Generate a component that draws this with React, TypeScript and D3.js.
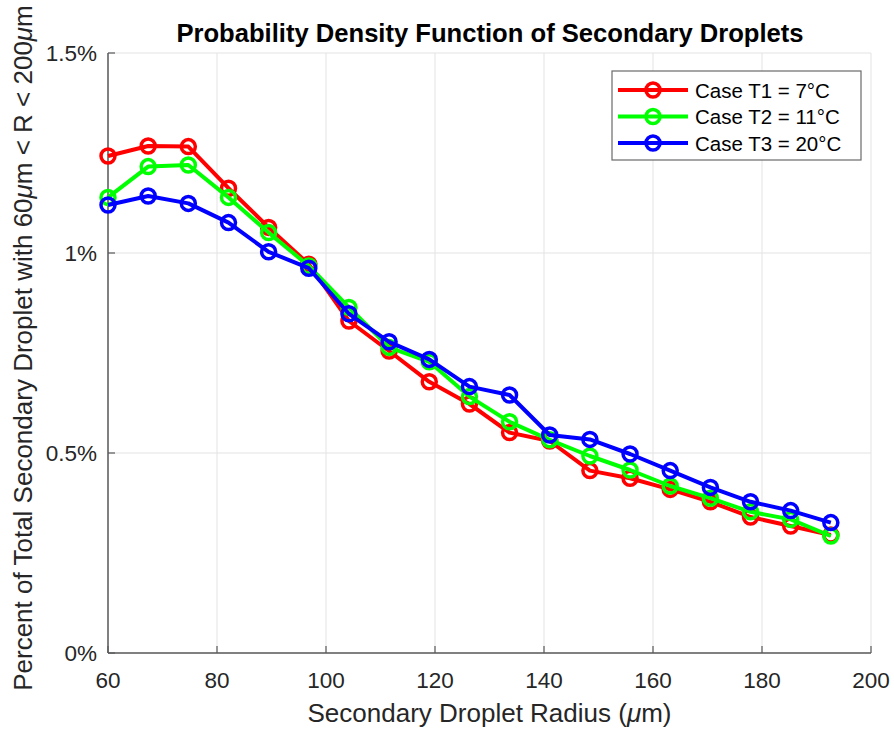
import React from "react";
import * as d3 from "d3";

const radius = [60, 67.37, 74.74, 82.11, 89.47, 96.84, 104.21, 111.58, 118.95, 126.32, 133.68, 141.05, 148.42, 155.79, 163.16, 170.53, 177.89, 185.26, 192.63];
const caseT1 = [1.2425, 1.2675, 1.266, 1.162, 1.064, 0.972, 0.83, 0.755, 0.678, 0.6225, 0.551, 0.53, 0.456, 0.437, 0.409, 0.378, 0.34, 0.3175, 0.295];
const caseT2 = [1.139, 1.216, 1.22, 1.139, 1.051, 0.9675, 0.864, 0.764, 0.728, 0.641, 0.578, 0.533, 0.4925, 0.4575, 0.4175, 0.387, 0.353, 0.334, 0.2925];
const caseT3 = [1.12, 1.1425, 1.124, 1.076, 1.003, 0.962, 0.848, 0.778, 0.734, 0.666, 0.645, 0.545, 0.534, 0.4975, 0.456, 0.414, 0.378, 0.356, 0.326];
const seriesNames = ["Case T1 = 7°C", "Case T2 = 11°C", "Case T3 = 20°C"];
const seriesColors = ["#ff0000", "#00ff00", "#0000ff"];
const xTicks = [60, 80, 100, 120, 140, 160, 180, 200];
const yTicks = [0, 0.5, 1, 1.5];
const yTickLabels = ["0%", "0.5%", "1%", "1.5%"];

const W = 894, H = 732;
const FONT = "'Liberation Sans', Arial, Helvetica, sans-serif";

export default function App() {
  const x = d3.scaleLinear().domain([60, 200]).range([108, 871]);
  const y = d3.scaleLinear().domain([0, 1.5]).range([653, 53]);
  const series = [caseT1, caseT2, caseT3];
  const line = d3.line<[number, number]>().x(d => x(d[0])).y(d => y(d[1]));
  const axisColor = "#5a5a5a";
  const gridColor = "#e3e3e3";

  return (
    <svg width={W} height={H} style={{ position: "absolute", left: 0, top: 0, background: "#fff" }} fontFamily={FONT}>
      <rect x={0} y={0} width={W} height={H} fill="#fff" />
      {xTicks.map(t => (
        <line key={"gx" + t} x1={x(t)} x2={x(t)} y1={y(1.5)} y2={y(0)} stroke={gridColor} strokeWidth={1} />
      ))}
      {yTicks.map(t => (
        <line key={"gy" + t} x1={x(60)} x2={x(200)} y1={y(t)} y2={y(t)} stroke={gridColor} strokeWidth={1} />
      ))}
      <line x1={x(60)} x2={x(200)} y1={y(0)} y2={y(0)} stroke={axisColor} strokeWidth={1.5} />
      <line x1={x(60)} x2={x(60)} y1={y(0)} y2={y(1.5)} stroke={axisColor} strokeWidth={1.5} />
      {xTicks.map(t => (
        <g key={"xt" + t}>
          <line x1={x(t)} x2={x(t)} y1={y(0)} y2={y(0) - 7} stroke={axisColor} strokeWidth={1.2} />
          <text x={x(t)} y={688} textAnchor="middle" fontSize={22.5} fill="#262626">{t}</text>
        </g>
      ))}
      {yTicks.map((t, i) => (
        <g key={"yt" + t}>
          <line x1={x(60)} x2={x(60) + 7} y1={y(t)} y2={y(t)} stroke={axisColor} strokeWidth={1.2} />
          <text x={97} y={y(t)} dy="0.37em" textAnchor="end" fontSize={22.5} fill="#262626">{yTickLabels[i]}</text>
        </g>
      ))}
      {series.map((s, si) => {
        const pts: [number, number][] = radius.map((r, i) => [r, s[i]]);
        return (
          <g key={"s" + si}>
            <path d={line(pts) || ""} fill="none" stroke={seriesColors[si]} strokeWidth={4} strokeLinejoin="round" />
            {pts.map((p, i) => (
              <circle key={i} cx={x(p[0])} cy={y(p[1])} r={7} fill="none" stroke={seriesColors[si]} strokeWidth={3.5} />
            ))}
          </g>
        );
      })}
      <text x={490} y={42} textAnchor="middle" fontSize={25.6} fontWeight="bold" fill="#000">Probability Density Function of Secondary Droplets</text>
      <text x={489.5} y={722} textAnchor="middle" fontSize={26} fill="#262626">
        Secondary Droplet Radius (<tspan fontStyle="italic">μ</tspan>m)
      </text>
      <text transform="translate(32,348) rotate(-90)" textAnchor="middle" fontSize={26} fill="#262626">
        Percent of Total Secondary Droplet with 60<tspan fontStyle="italic">μ</tspan>m &lt; R &lt; 200<tspan fontStyle="italic">μ</tspan>m
      </text>
      <rect x={612} y={71} width={249} height={89} fill="#fff" stroke="#6a6a6a" strokeWidth={1.2} />
      {seriesNames.map((n, i) => {
        const ly = 90 + i * 26.5;
        return (
          <g key={"lg" + i}>
            <line x1={618} x2={688} y1={ly} y2={ly} stroke={seriesColors[i]} strokeWidth={4} />
            <circle cx={653} cy={ly} r={7} fill="none" stroke={seriesColors[i]} strokeWidth={3.5} />
            <text x={695} y={ly} dy="0.37em" fontSize={20.5} fill="#000">{n}</text>
          </g>
        );
      })}
    </svg>
  );
}
